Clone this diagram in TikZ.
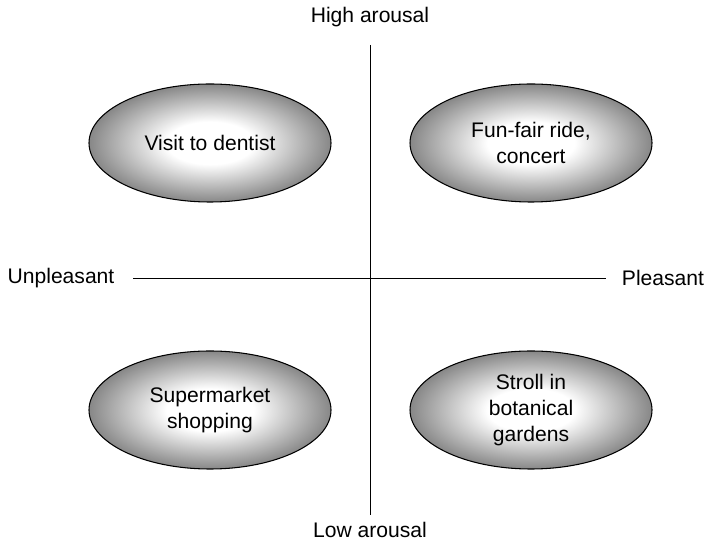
\documentclass[tikz,border=0pt]{standalone}
\usepackage{fontspec}
\setmainfont{Liberation Sans}
\usetikzlibrary{shapes.geometric}

\pgfdeclareradialshading{blobshade}{\pgfpoint{0bp}{0bp}}{%
  color(0bp)=(white); color(9bp)=(white); color(25bp)=(black!47); color(50bp)=(black!47)}

\tikzset{
  blob/.style={ellipse, draw=black, semithick, minimum width=4.84cm, minimum height=2.36cm,
    inner sep=0pt, shading=blobshade, align=center,
    font=\fontsize{12}{14.6}\selectfont},
  axislabel/.style={font=\fontsize{12}{14.6}\selectfont, inner sep=0pt}
}

\begin{document}
\begin{tikzpicture}
\useasboundingbox (0,0) rectangle (14.12,10.86) ;
\coordinate (top) at (7.4,9.96) ;
\coordinate (bottom) at (7.4,0.56) ;
\coordinate (left) at (2.66,5.3) ;
\coordinate (right) at (12.12,5.3) ;
\draw (top) -- (bottom) ;
\draw (left) -- (right) ;
\node [axislabel] (high) at (7.4,10.52) {High arousal} ;
\node [axislabel] (low) at (7.4,0.27) {Low arousal} ;
\node [axislabel] (unpl) at (1.22,5.3) {Unpleasant} ;
\node [axislabel] (pleas) at (13.26,5.3) {Pleasant} ;
\node [blob] (dentist) at (4.2,8.0) {Visit to dentist} ;
\node [blob] (funfair) at (10.62,8.0) {Fun-fair ride,\\concert} ;
\node [blob] (shopping) at (4.2,2.66) {Supermarket\\shopping} ;
\node [blob] (stroll) at (10.62,2.66) {Stroll in\\botanical\\gardens} ;
\end{tikzpicture}
\end{document}
